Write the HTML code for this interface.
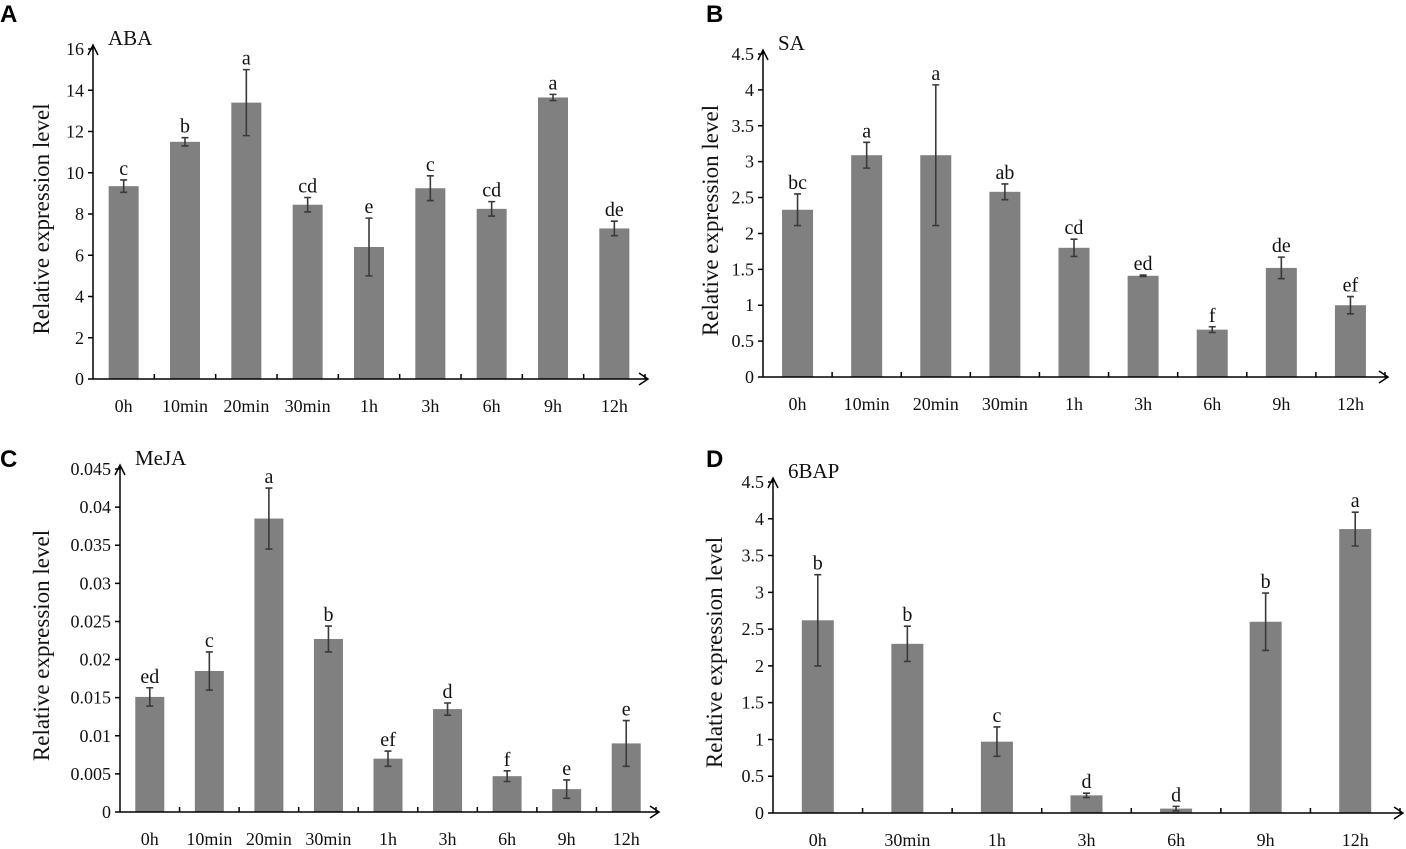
<!DOCTYPE html>
<html><head><meta charset="utf-8"><style>
body{margin:0;background:#fff;}
svg{display:block;font-family:"Liberation Serif","Times New Roman",serif !important;}
svg text{font-family:"Liberation Serif","Times New Roman",serif !important;fill:#111;}
svg text.pl{font-family:"Liberation Sans",Arial,sans-serif !important;font-weight:bold;font-size:24px;fill:#000;}
</style></head><body>
<svg id="fig" width="1406" height="849" viewBox="0 0 1406 849" font-family="Liberation Serif, serif" xmlns="http://www.w3.org/2000/svg"></svg>
<script>
const catsA=["0h","10min","20min","30min","1h","3h","6h","9h","12h"];
const valsA=[9.35,11.5,13.4,8.45,6.4,9.25,8.25,13.65,7.3];
const errA=[0.3,0.2,1.6,0.35,1.4,0.6,0.35,0.15,0.35];
const letA=["c","b","a","cd","e","c","cd","a","de"];
const ticksA=["0","2","4","6","8","10","12","14","16"];
const catsB=["0h","10min","20min","30min","1h","3h","6h","9h","12h"];
const valsB=[2.33,3.09,3.09,2.58,1.8,1.41,0.66,1.52,1.0];
const errB=[0.22,0.18,0.98,0.11,0.12,0.01,0.04,0.15,0.12];
const letB=["bc","a","a","ab","cd","ed","f","de","ef"];
const ticksB=["0","0.5","1","1.5","2","2.5","3","3.5","4","4.5"];
const catsC=["0h","10min","20min","30min","1h","3h","6h","9h","12h"];
const valsC=[0.0151,0.0185,0.0385,0.0227,0.007,0.0135,0.0047,0.003,0.009];
const errC=[0.0012,0.0025,0.004,0.0017,0.001,0.0008,0.0007,0.0012,0.003];
const letC=["ed","c","a","b","ef","d","f","e","e"];
const ticksC=["0","0.005","0.01","0.015","0.02","0.025","0.03","0.035","0.04","0.045"];
const catsD=["0h","30min","1h","3h","6h","9h","12h"];
const valsD=[2.62,2.3,0.97,0.24,0.06,2.6,3.86];
const errD=[0.62,0.24,0.2,0.03,0.03,0.39,0.23];
const letD=["b","b","c","d","d","b","a"];
const ticksD=["0","0.5","1","1.5","2","2.5","3","3.5","4","4.5"];

const svg=document.getElementById('fig');
const NS="http://www.w3.org/2000/svg";
function mk(tag,attrs,parent,txt){const e=document.createElementNS(NS,tag);for(const k in attrs)e.setAttribute(k,attrs[k]);if(txt!==undefined)e.textContent=txt;parent.appendChild(e);return e;}

function panel(o){
  const g=mk('g',{},svg);
  
  
  const ymax=parseFloat(o.ticks[o.ticks.length-1]);
  const ys=v=>o.y0-(v/ymax)*(o.y0-o.yTop);
  const n=o.cats.length;
  const step=(o.xEnd-o.x0)/n;
  const xs=i=>o.x0+step*(i+0.5);
  const pl=mk('text',{x:o.lx,y:o.ly,class:'pl'},g,o.id.toUpperCase());
  
  
  const tt=mk('text',{x:o.x0+15,y:o.yTop-4,'font-size':21},g,o.title);
  
  
  const yt=mk('text',{x:0,y:0,'font-size':23,'text-anchor':'middle',transform:`translate(${o.ytx},${(o.y0+o.yTop)/2+5}) rotate(-90)`},g,'Relative expression level');
  
  
  for(let i=0;i<n;i++){
    const v=o.vals[i],e=o.err[i],cx=xs(i);
    const b=mk('rect',{x:cx-o.bw/2,y:ys(v),width:o.bw,height:o.y0-ys(v),fill:'#808080'},g);
    
    
    const eg=mk('path',{d:`M${cx},${ys(v+e)}V${ys(v-e)}M${cx-3.5},${ys(v+e)}H${cx+3.5}M${cx-3.5},${ys(v-e)}H${cx+3.5}`,stroke:'#3a3a3a','stroke-width':1.6,fill:'none'},g);
    
    
    const lt=mk('text',{x:cx,y:ys(v+e)-5,'font-size':20,'text-anchor':'middle'},g,o.lets[i]);
    
    
    const xl=mk('text',{x:cx,y:o.y0+33,'font-size':18,'text-anchor':'middle'},g,o.cats[i]);
    
    
  }
  let d=`M${o.x0},${o.y0}H${o.xEnd+2}M${o.x0},${o.y0}V${o.yTop-4}`;
  d+=`M${o.x0-5},${o.yTop+6}L${o.x0},${o.yTop-4}L${o.x0+5},${o.yTop+6}`;
  d+=`M${o.xEnd-6},${o.y0-6}L${o.xEnd+3},${o.y0}L${o.xEnd-6},${o.y0+6}`;
  for(let i=1;i<=n;i++){const x=o.x0+step*i;d+=`M${x},${o.y0}V${o.y0-5}`;}
  o.ticks.forEach(t=>{const y=ys(parseFloat(t));d+=`M${o.x0-5},${y}H${o.x0}`;});
  const ax=mk('path',{d:d,stroke:'#000','stroke-width':1.5,fill:'none'},g);
  
  
  o.ticks.forEach(t=>{
    const tl=mk('text',{x:o.x0-9,y:ys(parseFloat(t))+6,'font-size':18,'text-anchor':'end'},g,t);
    
    
  });
}
panel({id:'a',title:'ABA',cats:catsA,vals:valsA,err:errA,lets:letA,ticks:ticksA,x0:93,xEnd:645,y0:379,yTop:49,bw:30,ytx:49,lx:0,ly:22});
panel({id:'b',title:'SA',cats:catsB,vals:valsB,err:errB,lets:letB,ticks:ticksB,x0:763,xEnd:1385,y0:377,yTop:54,bw:31,ytx:718,lx:706,ly:22});
panel({id:'c',title:'MeJA',cats:catsC,vals:valsC,err:errC,lets:letC,ticks:ticksC,x0:120,xEnd:656,y0:812,yTop:469,bw:29,ytx:49,lx:0,ly:467});
panel({id:'d',title:'6BAP',cats:catsD,vals:valsD,err:errD,lets:letD,ticks:ticksD,x0:773,xEnd:1400,y0:813,yTop:482,bw:32,ytx:722,lx:706,ly:467});
</script>
</body></html>
